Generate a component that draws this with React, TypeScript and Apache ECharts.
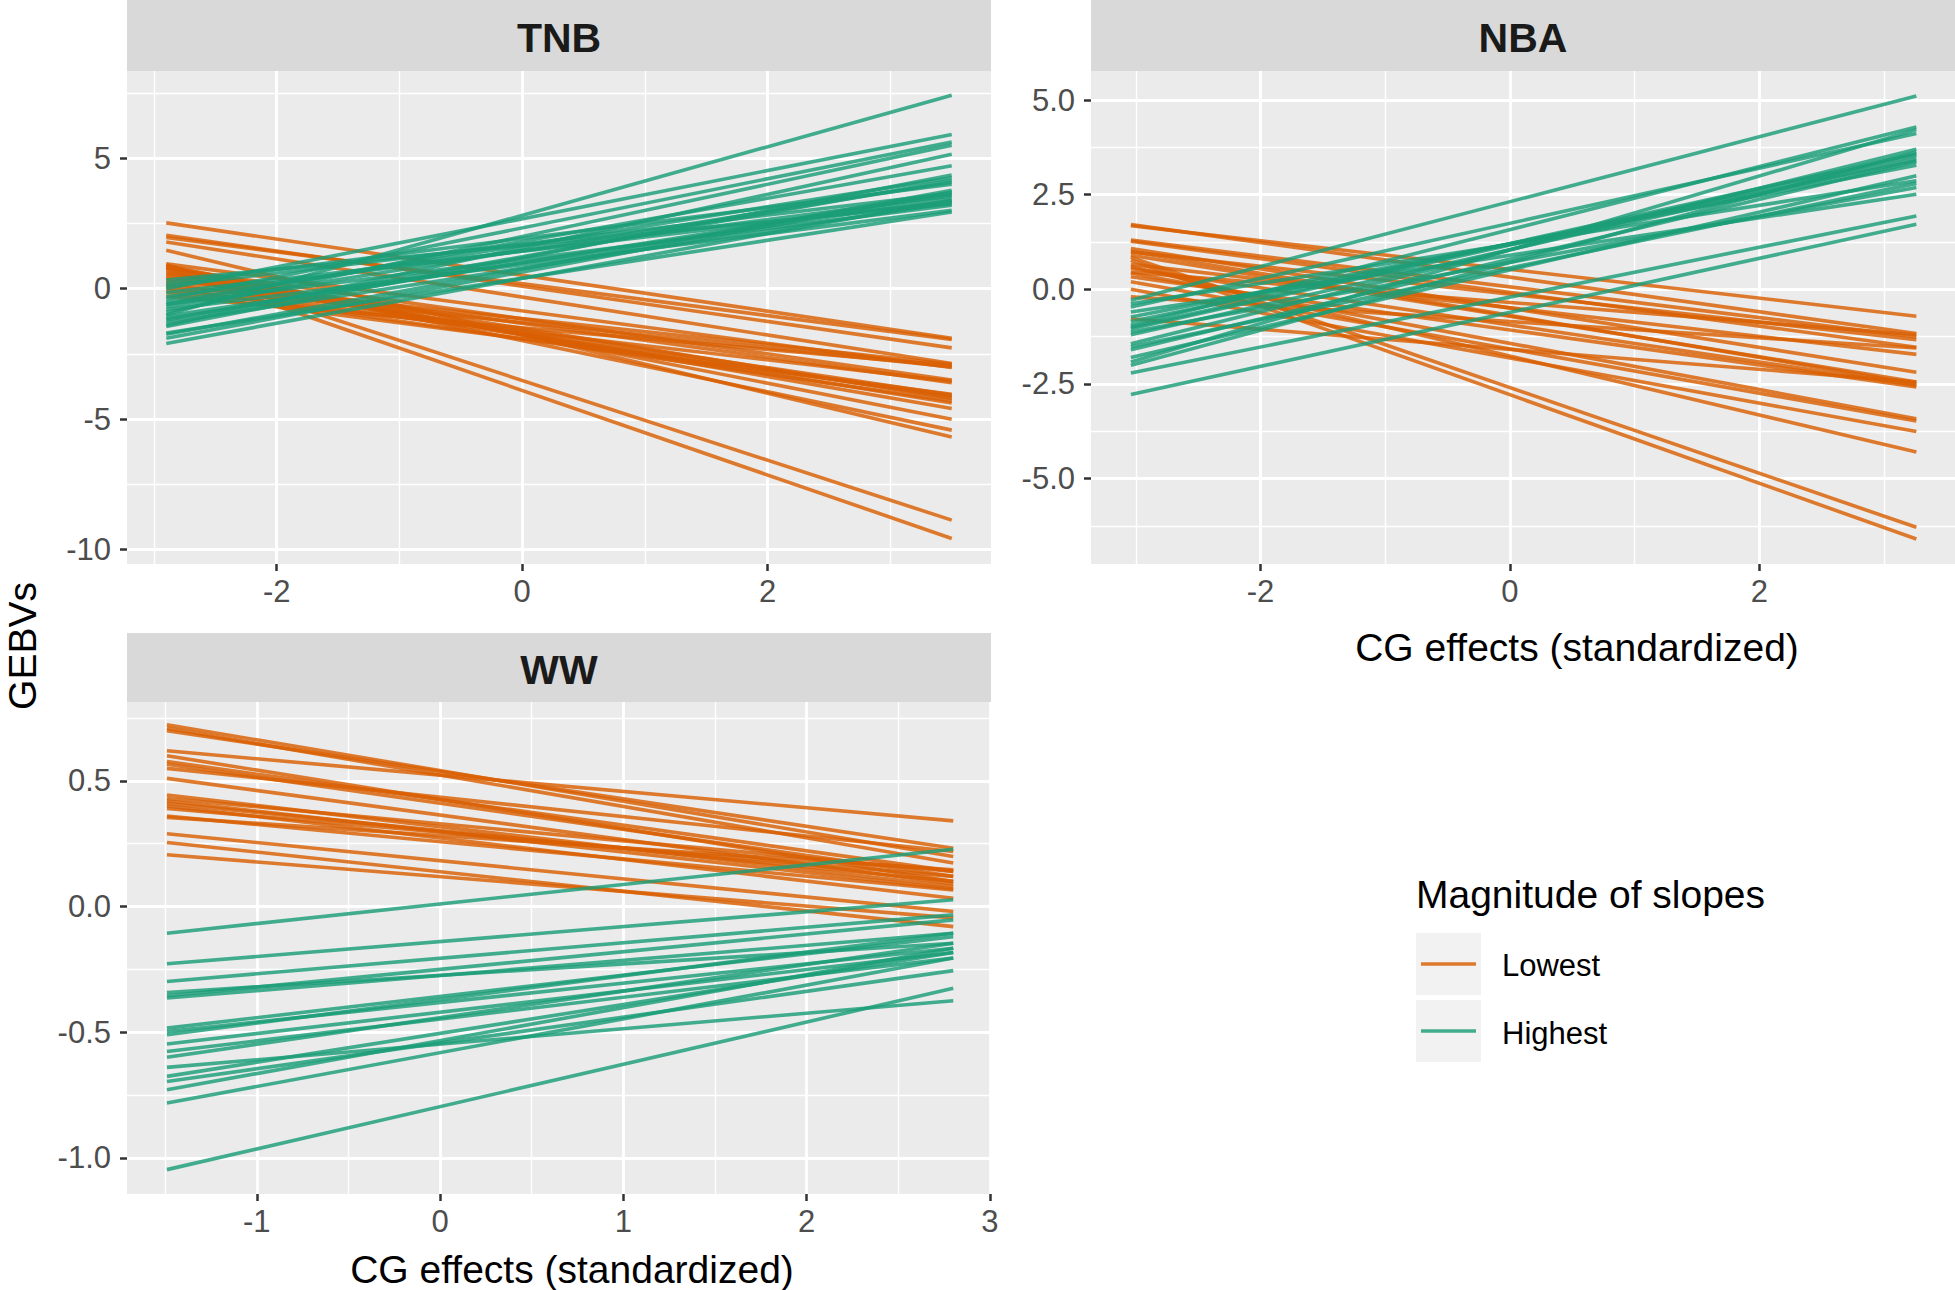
import React, { useEffect, useRef } from "react";
import * as echarts from "echarts";

// ---------- data ----------
// x extent of the fitted lines in each panel
const TNB_X = [-2.9, 3.5];
const NBA_X = [-3.04, 3.26];
const WW_X = [-1.49, 2.8];

// TNB
const TNB_LOW_START = [2.52, 2.05, 1.96, 1.79, 1.47, 0.95, 0.92, 0.88, 0.85, 0.8, 0.78, 0.7, 0.62, 0.55, 0.48, 0.4, 0.3, 0.22, 0.12, 0.05, -0.05, -0.15, -0.3];
const TNB_LOW_END = [-1.9, -2.27, -1.95, -2.87, -5.68, -3.02, -8.87, -5.0, -5.42, -9.57, -3.5, -4.21, -4.59, -3.6, -4.38, -4.08, -2.9, -4.15, -3.0, -4.3, -3.55, -4.05, -2.95];
const TNB_HIGH_START = [-1.0, 0.0, -0.4, -0.9, -1.4, -0.6, -1.45, -0.5, -1.2, -0.7, -1.75, 0.1, -0.3, -1.05, -0.15, 0.33, -0.6, -1.7, -0.8, 0.2, -1.15, -2.1, -1.9, -1.3];
const TNB_HIGH_END = [7.41, 5.91, 5.62, 5.5, 5.15, 4.71, 4.35, 4.25, 4.15, 4.08, 3.77, 3.65, 3.55, 3.45, 3.35, 3.25, 3.2, 2.94, 3.0, 4.0, 3.6, 3.4, 3.7, 3.3];

// NBA
const NBA_LOW_START = [1.71, 1.68, 1.3, 1.27, 1.08, 0.99, 0.9, 0.85, 0.77, 0.66, 0.55, 0.43, 0.33, 0.2, 0.0, -0.78, 0.6, 0.45, -0.2, 1.0];
const NBA_LOW_END = [-1.17, -0.71, -1.26, -1.53, -2.19, -1.33, -2.45, -6.29, -6.6, -1.72, -2.54, -3.42, -2.58, -3.48, -3.76, -2.45, -4.3, -1.2, -1.55, -2.5];
const NBA_HIGH_START = [-0.29, -0.38, -0.47, -0.73, -0.95, -1.04, -1.13, -1.44, -1.52, -1.92, -2.01, -2.21, -2.78, -1.2, -1.6, -0.6, -1.8, -1.0, -0.85];
const NBA_HIGH_END = [5.11, 2.87, 4.12, 3.28, 4.29, 3.54, 2.69, 3.7, 2.8, 4.22, 3.63, 1.94, 1.72, 3.46, 3.37, 2.51, 3.0, 3.58, 3.4];

// WW
const WW_LOW_START = [0.723, 0.71, 0.7, 0.62, 0.6, 0.577, 0.566, 0.55, 0.51, 0.444, 0.43, 0.42, 0.41, 0.4, 0.39, 0.36, 0.355, 0.29, 0.255, 0.206];
const WW_LOW_END = [0.199, 0.173, 0.232, 0.341, 0.1, 0.14, 0.12, 0.219, 0.09, 0.08, 0.14, 0.07, 0.1, 0.033, 0.12, 0.066, 0.146, -0.02, -0.08, -0.045];
const WW_HIGH_START = [-0.106, -0.228, -0.298, -0.342, -0.355, -0.364, -0.484, -0.497, -0.51, -0.547, -0.577, -0.6, -0.64, -0.676, -0.696, -0.729, -0.782, -1.047];
const WW_HIGH_END = [0.228, 0.027, -0.033, -0.146, -0.053, -0.106, -0.12, -0.166, -0.106, -0.183, -0.205, -0.146, -0.375, -0.183, -0.255, -0.166, -0.205, -0.325];

// axis ranges and ticks
const TNB_XRANGE = [-3.22, 3.82];
const TNB_YRANGE = [-10.55, 8.34];
const NBA_XRANGE = [-3.36, 3.57];
const NBA_YRANGE = [-7.26, 5.77];
const WW_XRANGE = [-1.708, 3.006];
const WW_YRANGE = [-1.144, 0.814];

const TNB_X_TICKS = [-2, 0, 2];
const TNB_X_MINOR = [-3, -1, 1, 3];
const TNB_Y_TICKS = [-10, -5, 0, 5];
const TNB_Y_MINOR = [-7.5, -2.5, 2.5, 7.5];
const NBA_X_TICKS = [-2, 0, 2];
const NBA_X_MINOR = [-3, -1, 1, 3];
const NBA_Y_TICKS = [-5, -2.5, 0, 2.5, 5];
const NBA_Y_MINOR = [-6.25, -3.75, -1.25, 1.25, 3.75];
const WW_X_TICKS = [-1, 0, 1, 2, 3];
const WW_X_MINOR = [-1.5, -0.5, 0.5, 1.5, 2.5];
const WW_Y_TICKS = [-1, -0.5, 0, 0.5];
const WW_Y_MINOR = [-0.75, -0.25, 0.25, 0.75];

const PANELS = ["TNB", "NBA", "WW"];
const GROUPS = ["Lowest", "Highest"];
const LEGEND_TITLE = "Magnitude of slopes";
const X_TITLE = "CG effects (standardized)";
const Y_TITLE = "GEBVs";

// ---------- styles ----------
const ORANGE = "#D95F02";
const GREEN = "#1B9E77";
const FONT = '"Liberation Sans", Arial, Helvetica, sans-serif';

const GRIDS = [
  { left: 127, top: 71, width: 864, height: 493 },
  { left: 1091, top: 71, width: 864, height: 493 },
  { left: 127, top: 702, width: 864, height: 492 },
];

function fmtInt(v: number) {
  return String(v);
}
function fmt1(v: number) {
  return v.toFixed(1);
}

function makeX(gi: number, range: number[], ticks: number[], minor: number[], fmt: (v: number) => string) {
  return [
    {
      type: "value",
      gridIndex: gi,
      min: range[0],
      max: range[1],
      position: "bottom",
      axisLine: { show: false, onZero: false },
      axisTick: { show: true, length: 7, lineStyle: { color: "#333333", width: 2.5 }, customValues: ticks },
      axisLabel: { show: true, customValues: ticks, formatter: fmt, color: "#4D4D4D", fontSize: 31, fontFamily: FONT, margin: 12 },
      splitLine: { show: true, customValues: ticks, lineStyle: { color: "#FFFFFF", width: 2.8 } },
      z: 1,
    },
    {
      type: "value",
      gridIndex: gi,
      min: range[0],
      max: range[1],
      position: "bottom",
      axisLine: { show: false, onZero: false },
      axisTick: { show: false, customValues: minor },
      axisLabel: { show: false, customValues: minor },
      splitLine: { show: true, customValues: minor, lineStyle: { color: "#FFFFFF", width: 1.4 } },
      z: 1,
    },
  ];
}

function makeY(gi: number, range: number[], ticks: number[], minor: number[], fmt: (v: number) => string) {
  return [
    {
      type: "value",
      gridIndex: gi,
      min: range[0],
      max: range[1],
      position: "left",
      axisLine: { show: false, onZero: false },
      axisTick: { show: true, length: 7, lineStyle: { color: "#333333", width: 2.5 }, customValues: ticks },
      axisLabel: { show: true, customValues: ticks, formatter: fmt, color: "#4D4D4D", fontSize: 31, fontFamily: FONT, margin: 16 },
      splitLine: { show: true, customValues: ticks, lineStyle: { color: "#FFFFFF", width: 2.8 } },
      z: 1,
    },
    {
      type: "value",
      gridIndex: gi,
      min: range[0],
      max: range[1],
      position: "left",
      axisLine: { show: false, onZero: false },
      axisTick: { show: false, customValues: minor },
      axisLabel: { show: false, customValues: minor },
      splitLine: { show: true, customValues: minor, lineStyle: { color: "#FFFFFF", width: 1.4 } },
      z: 1,
    },
  ];
}

function lines(gi: number, xs: number[], starts: number[], ends: number[], color: string, name: string) {
  return starts.map((s, i) => ({
    type: "line",
    name,
    xAxisIndex: gi * 2,
    yAxisIndex: gi * 2,
    data: [
      [xs[0], s],
      [xs[1], ends[i]],
    ],
    symbol: "none",
    showSymbol: false,
    silent: true,
    z: 3,
    lineStyle: { color, width: 3.6, opacity: 0.82 },
  }));
}

export default function App() {
  const ref = useRef<HTMLDivElement>(null);
  useEffect(() => {
    document.body.style.margin = "0";
    const chart = echarts.init(ref.current!, undefined, { renderer: "svg" });

    const strip = (x: number, y: number, w: number, h: number, label: string) => [
      { type: "rect", shape: { x, y, width: w, height: h }, style: { fill: "#D9D9D9" }, silent: true },
      {
        type: "text",
        x: x + w / 2,
        y: y + h / 2 + 2,
        style: { text: label, fontSize: 41, fontWeight: "bold", fontFamily: FONT, fill: "#1A1A1A", align: "center", verticalAlign: "middle" },
        silent: true,
      },
    ];

    const option: any = {
      animation: false,
      backgroundColor: "#FFFFFF",
      grid: GRIDS.map((g) => ({ ...g, show: true, backgroundColor: "#EBEBEB", borderWidth: 0, containLabel: false })),
      xAxis: [
        ...makeX(0, TNB_XRANGE, TNB_X_TICKS, TNB_X_MINOR, fmtInt),
        ...makeX(1, NBA_XRANGE, NBA_X_TICKS, NBA_X_MINOR, fmtInt),
        ...makeX(2, WW_XRANGE, WW_X_TICKS, WW_X_MINOR, fmtInt),
      ],
      yAxis: [
        ...makeY(0, TNB_YRANGE, TNB_Y_TICKS, TNB_Y_MINOR, fmtInt),
        ...makeY(1, NBA_YRANGE, NBA_Y_TICKS, NBA_Y_MINOR, fmt1),
        ...makeY(2, WW_YRANGE, WW_Y_TICKS, WW_Y_MINOR, fmt1),
      ],
      series: [
        ...lines(0, TNB_X, TNB_LOW_START, TNB_LOW_END, ORANGE, GROUPS[0]),
        ...lines(0, TNB_X, TNB_HIGH_START, TNB_HIGH_END, GREEN, GROUPS[1]),
        ...lines(1, NBA_X, NBA_LOW_START, NBA_LOW_END, ORANGE, GROUPS[0]),
        ...lines(1, NBA_X, NBA_HIGH_START, NBA_HIGH_END, GREEN, GROUPS[1]),
        ...lines(2, WW_X, WW_LOW_START, WW_LOW_END, ORANGE, GROUPS[0]),
        ...lines(2, WW_X, WW_HIGH_START, WW_HIGH_END, GREEN, GROUPS[1]),
      ],
      graphic: [
        ...strip(127, 0, 864, 71, PANELS[0]),
        ...strip(1091, 0, 864, 71, PANELS[1]),
        ...strip(127, 633, 864, 69, PANELS[2]),
        {
          type: "text",
          x: 1577,
          y: 647,
          style: { text: X_TITLE, fontSize: 39, fontFamily: FONT, fill: "#000000", align: "center", verticalAlign: "middle" },
        },
        {
          type: "text",
          x: 572,
          y: 1269,
          style: { text: X_TITLE, fontSize: 39, fontFamily: FONT, fill: "#000000", align: "center", verticalAlign: "middle" },
        },
        {
          type: "text",
          x: 22,
          y: 646,
          rotation: Math.PI / 2,
          style: { text: Y_TITLE, fontSize: 39, fontFamily: FONT, fill: "#000000", align: "center", verticalAlign: "middle" },
        },
        // legend
        {
          type: "text",
          x: 1416,
          y: 894,
          style: { text: LEGEND_TITLE, fontSize: 39, fontFamily: FONT, fill: "#000000", align: "left", verticalAlign: "middle" },
        },
        { type: "rect", shape: { x: 1416, y: 933, width: 65, height: 62 }, style: { fill: "#F2F2F2" } },
        { type: "line", shape: { x1: 1421, y1: 964, x2: 1476, y2: 964 }, style: { stroke: ORANGE, lineWidth: 3.6, opacity: 0.82 } },
        {
          type: "text",
          x: 1502,
          y: 965,
          style: { text: GROUPS[0], fontSize: 31, fontFamily: FONT, fill: "#000000", align: "left", verticalAlign: "middle" },
        },
        { type: "rect", shape: { x: 1416, y: 1000, width: 65, height: 62 }, style: { fill: "#F2F2F2" } },
        { type: "line", shape: { x1: 1421, y1: 1031, x2: 1476, y2: 1031 }, style: { stroke: GREEN, lineWidth: 3.6, opacity: 0.82 } },
        {
          type: "text",
          x: 1502,
          y: 1033,
          style: { text: GROUPS[1], fontSize: 31, fontFamily: FONT, fill: "#000000", align: "left", verticalAlign: "middle" },
        },
      ],
    };
    chart.setOption(option);
    return () => chart.dispose();
  }, []);
  return <div ref={ref} style={{ position: "absolute", left: 0, top: 0, width: 1955, height: 1290 }} />;
}
